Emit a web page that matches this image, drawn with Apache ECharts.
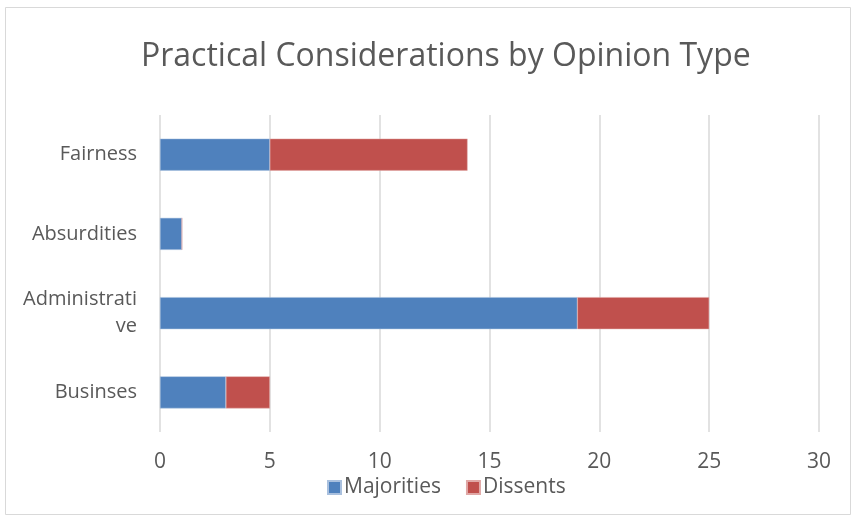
<!DOCTYPE html>
<html>
<head>
<meta charset="utf-8">
<script src="https://cdn.jsdelivr.net/npm/echarts@6/dist/echarts.min.js"></script>
<style>
  html, body { margin: 0; padding: 0; background: #fff; }
  #chart { width: 856px; height: 519px; }
</style>
</head>
<body>
<div id="chart"></div>
<script>
// data
var categories = ['Businses', 'Administrative', 'Absurdities', 'Fairness'];
var majorities = [3, 19, 1, 5];
var dissents = [2, 6, 0, 9];
var xTicks = [0, 5, 10, 15, 20, 25, 30];

var myChart = echarts.init(document.getElementById('chart'));

var option = {
    backgroundColor: '#fff',
    textStyle: { fontFamily: 'Open Sans' },
    graphic: [{
        type: 'rect',
        shape: { x: 5.5, y: 7.5, width: 845, height: 507 },
        style: { fill: 'none', stroke: '#d9d9d9', lineWidth: 1 },
        silent: true
    }],
    title: {
        text: 'Practical Considerations by Opinion Type',
        left: 136,
        top: 36,
        textStyle: {
            color: '#595959',
            fontSize: 32,
            fontWeight: 'normal',
            fontFamily: 'Open Sans'
        }
    },
    legend: {
        data: ['Majorities', 'Dissents'],
        left: 322,
        top: 472,
        itemWidth: 13,
        itemHeight: 13,
        itemGap: 25,
        icon: 'rect',
        textStyle: { color: '#595959', fontSize: 21, padding: [0, 0, 0, -2] }
    },
    grid: {
        left: 160,
        right: 37,
        top: 115,
        bottom: 87,
        containLabel: false
    },
    xAxis: {
        type: 'value',
        min: xTicks[0],
        max: xTicks[xTicks.length - 1],
        interval: 5,
        axisLine: { show: false },
        axisTick: { show: false },
        axisLabel: { color: '#595959', fontSize: 21, margin: 20 },
        splitLine: { show: true, lineStyle: { color: '#d9d9d9', width: 1.5 } }
    },
    yAxis: {
        type: 'category',
        data: categories,
        axisLine: { show: false },
        axisTick: { show: false },
        axisLabel: {
            color: '#595959',
            fontSize: 20,
            margin: 23,
            lineHeight: 27,
            formatter: function (v) {
                return v.length > 12 ? v.slice(0, 12) + '\n' + v.slice(12) : v;
            }
        }
    },
    series: [{
        name: 'Majorities',
        type: 'bar',
        stack: 'total',
        barWidth: 32,
        itemStyle: { color: '#4F81BD', borderColor: '#a9c0de', borderWidth: 0.5 },
        data: majorities
    }, {
        name: 'Dissents',
        type: 'bar',
        stack: 'total',
        barWidth: 32,
        itemStyle: { color: '#C0504D', borderColor: '#e0a8a6', borderWidth: 0.5 },
        data: dissents
    }]
};

myChart.setOption(option);
</script>
</body>
</html>
